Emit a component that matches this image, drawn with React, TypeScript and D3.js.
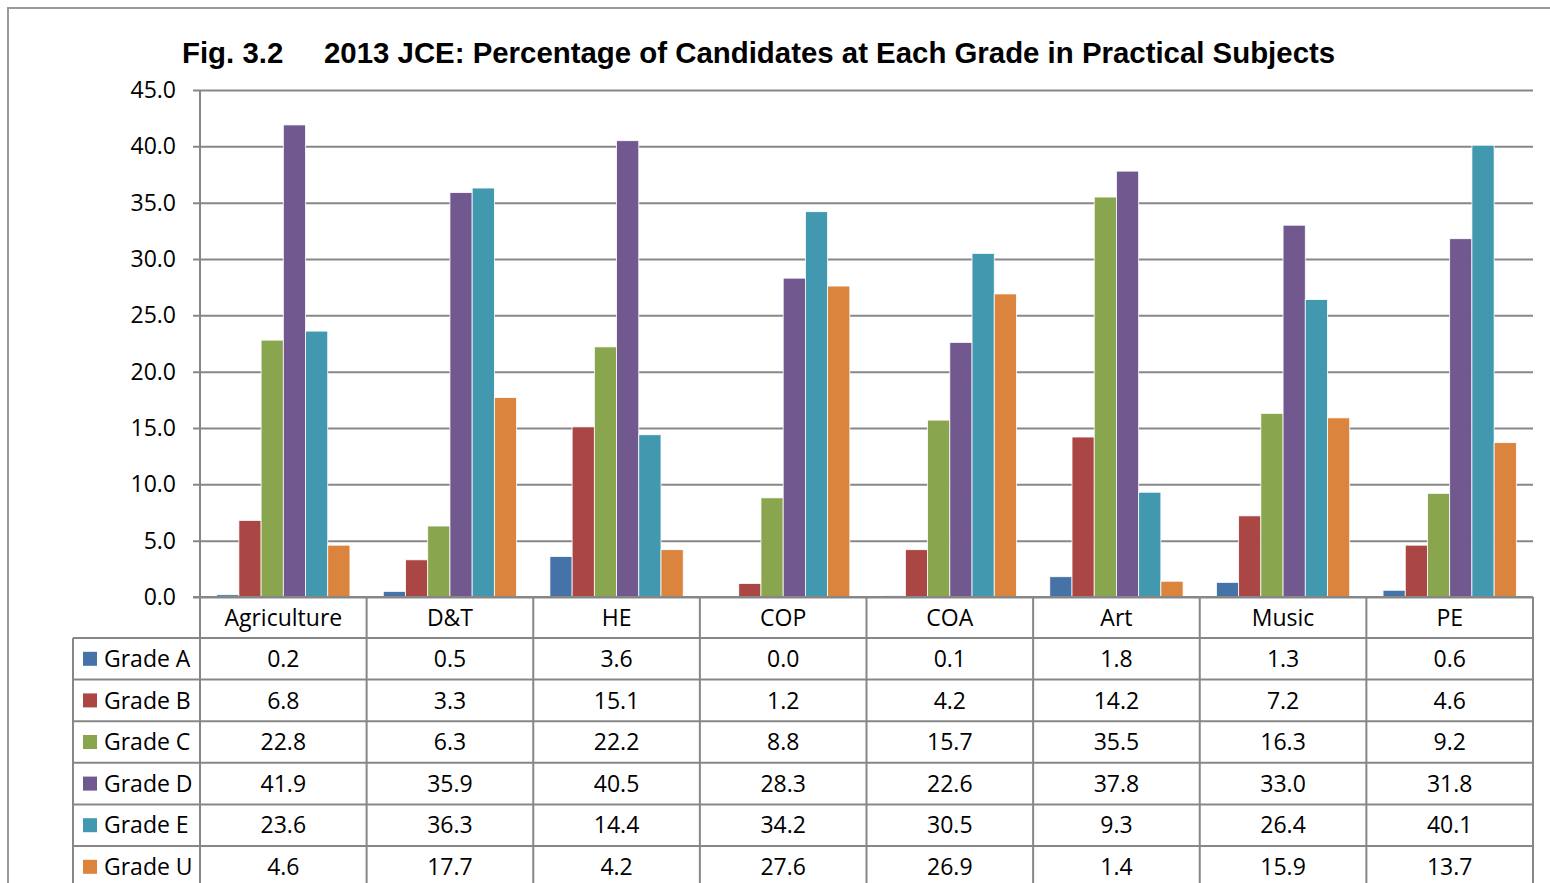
import React, { useEffect, useRef } from 'react';
import * as d3 from 'd3';

const subjects = ['Agriculture', 'D&T', 'HE', 'COP', 'COA', 'Art', 'Music', 'PE'];
const grades = ['Grade A', 'Grade B', 'Grade C', 'Grade D', 'Grade E', 'Grade U'];
const gradeColors = ['#4572A7', '#AA4643', '#89A54E', '#71588F', '#4198AF', '#DB843D'];

const gradeA = [0.2, 0.5, 3.6, 0.0, 0.1, 1.8, 1.3, 0.6];
const gradeB = [6.8, 3.3, 15.1, 1.2, 4.2, 14.2, 7.2, 4.6];
const gradeC = [22.8, 6.3, 22.2, 8.8, 15.7, 35.5, 16.3, 9.2];
const gradeD = [41.9, 35.9, 40.5, 28.3, 22.6, 37.8, 33.0, 31.8];
const gradeE = [23.6, 36.3, 14.4, 34.2, 30.5, 9.3, 26.4, 40.1];
const gradeU = [4.6, 17.7, 4.2, 27.6, 26.9, 1.4, 15.9, 13.7];
const yTicks = [0, 5, 10, 15, 20, 25, 30, 35, 40, 45];

const seriesValues = [gradeA, gradeB, gradeC, gradeD, gradeE, gradeU];

const W = 1550;
const H = 883;

const App: React.FC = () => {
  const svgRef = useRef<SVGSVGElement>(null);

  useEffect(() => {
    if (!svgRef.current) return;
    const svg = d3.select(svgRef.current);
    svg.selectAll('*').remove();

    const plot = { left: 200, right: 1533, top: 90, bottom: 597 };
    const tableLeft = 73;
    const headerBottom = 638;
    const rowH = 41.6;
    const gridColor = '#878787';
    const font = '"Open Sans", sans-serif';

    svg.append('rect').attr('width', W).attr('height', H).attr('fill', '#fff');

    // outer frame
    svg.append('path')
      .attr('d', `M8,${H} L8,8 L${W},8`)
      .attr('fill', 'none')
      .attr('stroke', '#9a9a9a')
      .attr('stroke-width', 2);

    // title
    const title = svg.append('text')
      .attr('y', 63)
      .style('font-family', '"Liberation Sans", Arial, sans-serif')
      .style('font-weight', 'bold')
      .style('font-size', '29.4px')
      .attr('fill', '#000');
    title.append('tspan').attr('x', 182).text('Fig. 3.2');
    title.append('tspan').attr('x', 324).text('2013 JCE: Percentage of Candidates at Each Grade in Practical Subjects');

    const x = d3.scaleBand<string>()
      .domain(subjects)
      .range([plot.left, plot.right])
      .paddingInner(0)
      .paddingOuter(0);

    const xInner = d3.scaleBand<string>()
      .domain(grades)
      .range([0, x.bandwidth()])
      .paddingInner(0)
      .paddingOuter(0.75);

    const y = d3.scaleLinear().domain([0, 45]).range([plot.bottom, plot.top]);

    // grid lines + ticks
    const yAxis = svg.append('g')
      .attr('transform', `translate(${plot.left},0)`)
      .call(
        d3.axisLeft(y)
          .tickValues(yTicks)
          .tickSize(-(plot.right - plot.left))
          .tickPadding(24)
          .tickFormat(d3.format('.1f'))
      );
    yAxis.select('.domain').remove();
    yAxis.selectAll('.tick line')
      .attr('x1', -7)
      .attr('stroke', gridColor)
      .attr('stroke-width', 2);
    yAxis.selectAll('.tick text')
      .style('font-family', font)
      .style('font-size', '23px')
      .attr('fill', '#000');

    // vertical axis line
    svg.append('line')
      .attr('x1', plot.left).attr('x2', plot.left)
      .attr('y1', plot.top).attr('y2', plot.bottom)
      .attr('stroke', gridColor).attr('stroke-width', 2);

    // bars
    seriesValues.forEach((vals, gi) => {
      svg.append('g')
        .selectAll('rect')
        .data(vals)
        .enter()
        .append('rect')
        .attr('x', (d, i) => (x(subjects[i]) as number) + (xInner(grades[gi]) as number))
        .attr('y', d => y(d))
        .attr('width', xInner.bandwidth())
        .attr('height', d => y(0) - y(d))
        .attr('fill', gradeColors[gi])
        .attr('stroke', '#fff')
        .attr('stroke-width', 0.8);
    });

    // baseline over bars
    svg.append('line')
      .attr('x1', plot.left - 7).attr('x2', plot.right)
      .attr('y1', plot.bottom).attr('y2', plot.bottom)
      .attr('stroke', gridColor).attr('stroke-width', 2);

    // data table
    const table = svg.append('g');
    const tableBottom = H + 10;

    // vertical lines
    const vx = subjects.map(s => x(s) as number).concat([plot.right]);
    vx.forEach(vxi => {
      table.append('line')
        .attr('x1', vxi).attr('x2', vxi)
        .attr('y1', plot.bottom).attr('y2', tableBottom)
        .attr('stroke', gridColor).attr('stroke-width', 2);
    });
    table.append('line')
      .attr('x1', tableLeft).attr('x2', tableLeft)
      .attr('y1', headerBottom).attr('y2', tableBottom)
      .attr('stroke', gridColor).attr('stroke-width', 2);

    // horizontal lines
    grades.forEach((g, i) => {
      const yy = headerBottom + i * rowH;
      table.append('line')
        .attr('x1', tableLeft).attr('x2', plot.right)
        .attr('y1', yy).attr('y2', yy)
        .attr('stroke', gridColor).attr('stroke-width', 2);
    });

    // header
    table.selectAll('text.hdr')
      .data(subjects)
      .enter()
      .append('text')
      .attr('class', 'hdr')
      .attr('x', d => (x(d) as number) + x.bandwidth() / 2)
      .attr('y', (plot.bottom + headerBottom) / 2)
      .attr('dy', '0.36em')
      .attr('text-anchor', 'middle')
      .style('font-family', font)
      .style('font-size', '23px')
      .attr('fill', '#000')
      .text(d => d);

    // rows
    grades.forEach((g, gi) => {
      const cy = headerBottom + gi * rowH + rowH / 2;
      table.append('rect')
        .attr('x', 83).attr('y', cy - 7)
        .attr('width', 14).attr('height', 14)
        .attr('fill', gradeColors[gi]);
      table.append('text')
        .attr('x', 104).attr('y', cy)
        .attr('dy', '0.36em')
        .style('font-family', font)
        .style('font-size', '23px')
        .attr('fill', '#000')
        .text(g);
      table.selectAll(`text.v${gi}`)
        .data(seriesValues[gi])
        .enter()
        .append('text')
        .attr('class', `v${gi}`)
        .attr('x', (d, i) => (x(subjects[i]) as number) + x.bandwidth() / 2)
        .attr('y', cy)
        .attr('dy', '0.36em')
        .attr('text-anchor', 'middle')
        .style('font-family', font)
        .style('font-size', '23px')
        .attr('fill', '#000')
        .text(d => d.toFixed(1));
    });
  }, []);

  return (
    <svg
      ref={svgRef}
      width={W}
      height={H}
      style={{ position: 'absolute', left: 0, top: 0 }}
    />
  );
};

export default App;
